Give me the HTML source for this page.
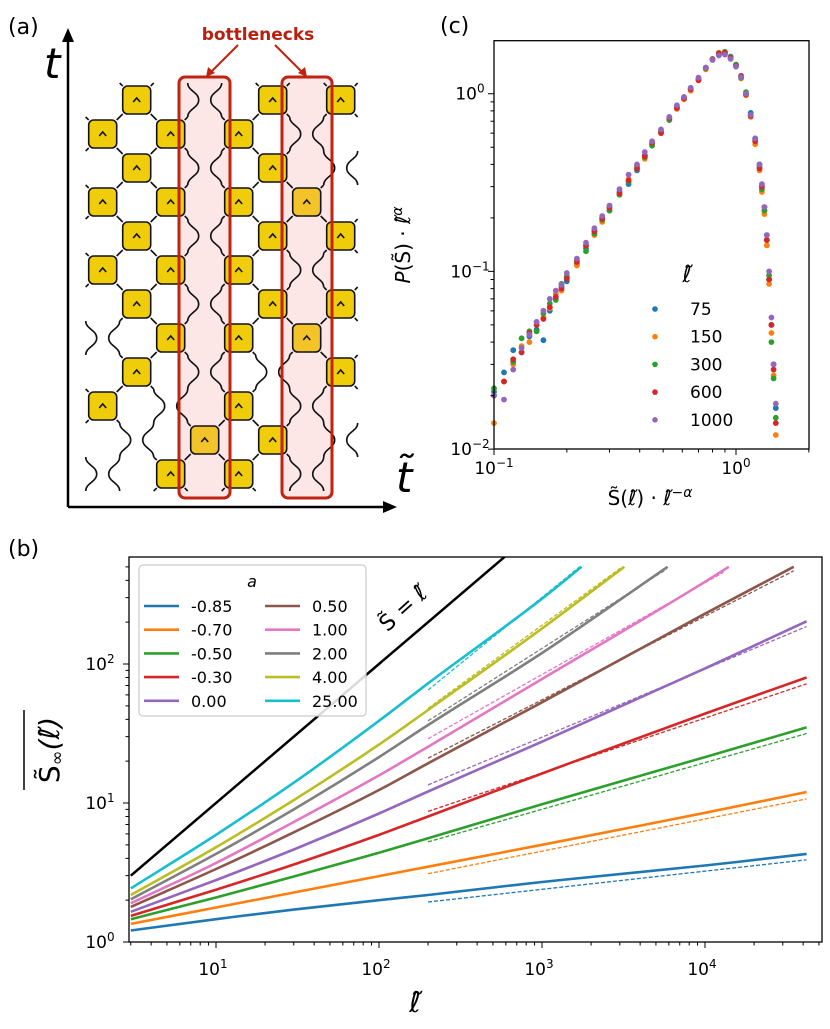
<!DOCTYPE html>
<html><head><meta charset="utf-8"><style>
html,body{margin:0;padding:0;background:#fff}
svg{display:block}
text{font-family:"DejaVu Sans","Liberation Sans",sans-serif}
</style></head><body>
<svg id="fig" xmlns="http://www.w3.org/2000/svg" width="830" height="1029" viewBox="0 0 830 1029">
<g id="pa"></g>
<g id="pb"></g>
<g id="pc"></g>
</svg>
<script>
// ===== Panel (b) data =====
const bLabels = ["-0.85","-0.70","-0.50","-0.30","0.00","0.50","1.00","2.00","4.00","25.00"];
const bColors = ["#1f77b4","#ff7f0e","#2ca02c","#d62728","#9467bd","#8c564b","#e377c2","#7f7f7f","#bcbd22","#17becf"];
const bX_m085 = [3,10,30,100,200,1000,10000,42000];
const bY_m085 = [1.21,1.46,1.71,2.0,2.18,2.7,3.55,4.3];
const bX_m070 = [3,10,30,100,200,1000,10000,42000];
const bY_m070 = [1.35,1.77,2.27,2.98,3.48,5.0,8.5,12];
const bX_m050 = [3,10,30,100,200,1000,10000,42000];
const bY_m050 = [1.46,2.09,2.96,4.39,5.57,9.8,21.4,35];
const bX_m030 = [3,10,30,100,200,1000,10000,42000];
const bY_m030 = [1.54,2.38,3.61,5.9,8.0,16.3,44,80];
const bX_000 = [3,10,30,100,200,1000,10000,42000];
const bY_000 = [1.65,2.79,4.63,8.4,12.1,27.6,93,203];
const bX_050 = [3,10,30,100,200,1000,10000,35000];
const bY_050 = [1.79,3.35,6.15,12.4,19.3,53,230,500];
const bX_100 = [3,10,30,100,200,1000,10000,14000];
const bY_100 = [1.90,3.7,7.3,15.8,25.4,78,390,500];
const bX_200 = [3,10,30,100,200,1000,5900];
const bY_200 = [2.03,4.3,9.0,21.4,36.4,120,500];
const bX_400 = [3,10,30,100,200,1000,3200];
const bY_400 = [2.18,4.8,10.5,26.3,46.7,180,500];
const bX_2500 = [3,10,30,100,200,1000,1750];
const bY_2500 = [2.43,5.9,14,39,72.6,295,500];
const bFitX0 = [200,200,200,200,200,200,200,200,200,200];
const bFitY0 = [1.94,3.1,5.25,8.7,13.5,21,29,39,48,65];
const bFitX1 = [42000,42000,42000,42000,42000,35000,13000,5800,3100,1700];
const bFitY1 = [3.9,10.7,31.6,72,186,468,457,480,500,500];
const bXTicks = [10,100,1000,10000];
const bXTickExp = ["1","2","3","4"];
const bYTicks = [1,10,100];
const bYTickExp = ["0","1","2"];
const bIdentityX = [3,1000];

// ===== Panel (c) data =====
const cLabels = ["75","150","300","600","1000"];
const cColors = ["#1f77b4","#ff7f0e","#2ca02c","#d62728","#9467bd"];
const cX = [0.10,0.11,0.12,0.13,0.14,0.15,0.16,0.17,0.18,0.19,0.20,0.22,0.24,0.26,0.28,0.30,0.33,0.36,0.39,0.42,0.45,0.49,0.53,0.57,0.61,0.65,0.70,0.75,0.80,0.85,0.90,0.95,1.00,1.05,1.10,1.15,1.20,1.25,1.28,1.31,1.34,1.37,1.40,1.43,1.46];
const cY75 = [0.021,0.027,0.036,0.035,0.043,0.047,0.041,0.060,0.070,0.082,0.088,0.110,0.135,0.170,0.200,0.220,0.28,0.31,0.37,0.45,0.52,0.60,0.73,0.84,0.95,1.07,1.22,1.40,1.56,1.66,1.68,1.62,1.45,1.26,1.00,0.78,0.56,0.40,0.30,0.22,0.15,0.09,0.05,0.030,0.017];
const cY150 = [0.014,0.024,0.030,0.038,0.040,0.052,0.055,0.062,0.075,0.078,0.092,0.108,0.140,0.160,0.190,0.230,0.27,0.33,0.38,0.43,0.52,0.62,0.72,0.82,0.93,1.04,1.21,1.37,1.55,1.70,1.71,1.58,1.44,1.22,0.98,0.74,0.52,0.37,0.28,0.21,0.14,0.085,0.045,0.026,0.012];
const cY300 = [0.022,0.024,0.031,0.042,0.046,0.046,0.058,0.066,0.069,0.085,0.094,0.115,0.130,0.163,0.195,0.220,0.27,0.32,0.39,0.44,0.51,0.61,0.71,0.84,0.95,1.06,1.20,1.39,1.57,1.69,1.72,1.61,1.46,1.23,1.02,0.76,0.55,0.39,0.29,0.22,0.16,0.095,0.040,0.025,0.015];
const cY600 = [0.020,0.024,0.032,0.035,0.045,0.050,0.054,0.063,0.072,0.080,0.091,0.113,0.140,0.168,0.198,0.228,0.275,0.325,0.38,0.445,0.53,0.60,0.73,0.83,0.94,1.06,1.19,1.40,1.56,1.68,1.70,1.59,1.43,1.26,0.99,0.75,0.54,0.38,0.30,0.23,0.15,0.090,0.050,0.028,0.014];
const cY1000 = [0.020,0.019,0.028,0.037,0.044,0.052,0.060,0.070,0.078,0.084,0.098,0.118,0.145,0.175,0.205,0.235,0.29,0.35,0.40,0.47,0.54,0.63,0.74,0.86,0.96,1.08,1.23,1.40,1.55,1.64,1.66,1.57,1.42,1.24,1.00,0.76,0.56,0.40,0.31,0.23,0.16,0.10,0.055,0.030,0.018];
const cXTicks = [0.1,1];
const cXTickExp = ["\u22121","0"];
const cYTicks = [0.01,0.1,1];
const cYTickExp = ["\u22122","\u22121","0"];

// ===== Panel (a) data =====
const aGates = [[1,5,7],[0,2,4],[1,5],[0,2,4,6],[1,5,7],[0,2,4],[1,5,7],[2,4,6],[1,7],[0,4],[3,5],[2,4]];
const aOrange = ["3-6","7-6","10-3"];

const NS="http://www.w3.org/2000/svg";
function mk(tag, parent, attrs){const e=document.createElementNS(NS,tag);for(const k in attrs)e.setAttribute(k,attrs[k]);parent.appendChild(e);return e;}
const L=Math.log10;
function monotonePath(p){
  const n=p.length, dx=[], s=[], m=[];
  for(let i=0;i<n-1;i++){dx.push(p[i+1][0]-p[i][0]);s.push((p[i+1][1]-p[i][1])/dx[i]);}
  m[0]=s[0];m[n-1]=s[n-2];
  for(let i=1;i<n-1;i++){m[i]=(s[i-1]*s[i]<=0)?0:(dx[i-1]+dx[i])*3/((2*dx[i]+dx[i-1])/s[i-1]+(dx[i]+2*dx[i-1])/s[i]);}
  let d=`M${p[0][0].toFixed(1)},${p[0][1].toFixed(1)}`;
  for(let i=0;i<n-1;i++){const h=dx[i];
    d+=`C${(p[i][0]+h/3).toFixed(1)},${(p[i][1]+m[i]*h/3).toFixed(1)} ${(p[i+1][0]-h/3).toFixed(1)},${(p[i+1][1]-m[i+1]*h/3).toFixed(1)} ${p[i+1][0].toFixed(1)},${p[i+1][1].toFixed(1)}`;}
  return d;
}

// ---------------- Panel (a) ----------------
(function(){
const g=document.getElementById('pa');
const t=mk('text',g,{x:8,y:34,'font-size':22});t.textContent='(a)';


const c0=102.7, dx=34, r0=100, dy=34, h=14;
const rects=[[179,77,51,421],[282,77,50,421]];
rects.forEach((r,i)=>{const e=mk('rect',g,{x:r[0],y:r[1],width:r[2],height:r[3],rx:6,fill:'#fde6e6',stroke:'none'});

});
let d='';
for(let r=0;r<12;r++){
  const Y=r0+r*dy;
  const present=aGates[r];
  for(let c=0;c<8;c++){
    if((c+r)%2!==1) continue;
    const X=c0+c*dx;
    if(present.includes(c)){
      d+=`M${X-17},${Y-17}L${X-h},${Y-h}M${X+17},${Y-17}L${X+h},${Y-h}M${X-17},${Y+17}L${X-h},${Y+h}M${X+17},${Y+17}L${X+h},${Y+h}`;
    } else {
      [[X-17,1],[X+17,-1]].forEach(([xw,s])=>{
        if(xw>362) return;
        const b=xw+s*11;
        d+=`M${xw},${Y-17}C${xw},${Y-9} ${b},${Y-8} ${b},${Y}C${b},${Y+8} ${xw},${Y+9} ${xw},${Y+17}`;
      });
    }
  }
}
const w=mk('path',g,{d:d,fill:'none',stroke:'#111','stroke-width':1.6});


for(let r=0;r<12;r++){
  const Y=r0+r*dy;
  aGates[r].forEach(c=>{
    const X=c0+c*dx;
    const orange=aOrange.includes(r+'-'+c);
    const sq=mk('rect',g,{x:X-h,y:Y-h,width:28,height:28,rx:5,fill:orange?'#f2c42a':'#f0cd0a',stroke:'#111','stroke-width':1.6});
    
    
    const ch=mk('path',g,{d:`M${X-3.5},${Y+2}L${X},${Y-2}L${X+3.5},${Y+2}`,fill:'none',stroke:'#111','stroke-width':1.6});
    
    
  });
}
rects.forEach(r=>{const e=mk('rect',g,{x:r[0],y:r[1],width:r[2],height:r[3],rx:6,fill:'none',stroke:'#c0230f','stroke-width':3});

});
const ax=mk('path',g,{d:'M68,507L68,40M68,507L385,507',stroke:'#000','stroke-width':2.5,fill:'none'});


const ar=mk('path',g,{d:'M68,28L62,42L74,42ZM397,507L383,501L383,513Z',fill:'#000'});


const tl=mk('text',g,{x:44,y:78,'font-size':42,'font-style':'italic','font-family':'Liberation Serif, serif'});tl.textContent='t';


const tt=mk('text',g,{x:396,y:492,'font-size':42,'font-style':'italic','font-family':'Liberation Serif, serif'});tt.textContent='t\u0303';


const bn=mk('text',g,{x:258,y:40,'font-size':17,'font-weight':'bold',fill:'#b8200e','text-anchor':'middle'});bn.textContent='bottlenecks';


const ba=mk('path',g,{d:'M238,45L209,74M275,45L304,74',stroke:'#c0230f','stroke-width':2,fill:'none'});


const bh=mk('path',g,{d:'M206,77L208,67L215,73ZM307,77L298,73L305,67Z',fill:'#c0230f'});


})();

// ---------------- Panel (b) ----------------
(function(){
const g=document.getElementById('pb');
const left=129,right=822,top=557,bot=942;
const X=v=>216+163*(L(v)-1);
const Y=v=>942-139*L(v);
const lab=mk('text',g,{x:8,y:556,'font-size':22});lab.textContent='(b)';


const defs=mk('defs',g,{});
const cp=mk('clipPath',defs,{id:'clipb'});mk('rect',cp,{x:left,y:top,width:right-left,height:bot-top});
const pl=mk('g',g,{'clip-path':'url(#clipb)'});
const id=mk('line',pl,{x1:X(bIdentityX[0]),y1:Y(bIdentityX[0]),x2:X(bIdentityX[1]),y2:Y(bIdentityX[1]),stroke:'#000','stroke-width':2.5});


const sx=[bX_m085,bX_m070,bX_m050,bX_m030,bX_000,bX_050,bX_100,bX_200,bX_400,bX_2500];
const sy=[bY_m085,bY_m070,bY_m050,bY_m030,bY_000,bY_050,bY_100,bY_200,bY_400,bY_2500];
for(let i=0;i<10;i++){
  const pts=sx[i].map((x,j)=>[X(x),Y(sy[i][j])]);
  const p=mk('path',pl,{d:monotonePath(pts),fill:'none',stroke:bColors[i],'stroke-width':2.6,'stroke-linejoin':'round'});
  
  
  const f=mk('line',pl,{x1:X(bFitX0[i]),y1:Y(bFitY0[i]),x2:X(bFitX1[i]),y2:Y(bFitY1[i]),stroke:bColors[i],'stroke-width':1.3,'stroke-dasharray':'4,2'});
  
  
}
const fr=mk('rect',g,{x:left,y:top,width:right-left,height:bot-top,fill:'none',stroke:'#000','stroke-width':1.3});


let td='';
for(let e=0;e<5;e++)for(let m=1;m<10;m++){const v=m*Math.pow(10,e);const x=X(v);if(x<left-0.5||x>right)continue;td+=`M${x},${bot}L${x},${bot+(m===1?6:3.5)}`;}
for(let e=0;e<3;e++)for(let m=1;m<10;m++){const v=m*Math.pow(10,e);const y=Y(v);if(y<top)continue;td+=`M${left},${y}L${left-(m===1?6:3.5)},${y}`;}
const tk=mk('path',g,{d:td,stroke:'#000','stroke-width':1});


bXTicks.forEach((v,i)=>{const t=mk('text',g,{x:X(v)-3,y:975,'font-size':17,'text-anchor':'middle'});t.innerHTML='10<tspan dy="-7" font-size="12">'+bXTickExp[i]+'</tspan>';

});
bYTicks.forEach((v,i)=>{const t=mk('text',g,{x:100,y:Y(v)+6,'font-size':17,'text-anchor':'middle'});t.innerHTML='10<tspan dy="-7" font-size="12">'+bYTickExp[i]+'</tspan>';

});
const xl=mk('text',g,{x:415,y:1012,'font-size':28,'font-style':'italic','text-anchor':'middle'});xl.textContent='\u2113\u0303';


const yl=mk('text',g,{x:0,y:0,'font-size':28,'text-anchor':'middle',transform:'translate(59,750) rotate(-90)'});yl.innerHTML='S\u0303<tspan font-size="18" dy="4">\u221e</tspan><tspan dy="-4" font-style="italic">(\u2113\u0303)</tspan>';


const ol=mk('line',g,{x1:24,y1:710,x2:24,y2:790,stroke:'#000','stroke-width':1.5});


const lg=mk('rect',g,{x:139,y:565,width:227,height:151,rx:4,fill:'#fff','fill-opacity':0.85,stroke:'#ccc','stroke-width':1.2});


const il=mk('text',g,{x:0,y:0,'font-size':22,'text-anchor':'middle',transform:'translate(408,614) rotate(-42)'});il.innerHTML='S\u0303 = <tspan font-style="italic">\u2113\u0303</tspan>';


const lt=mk('text',g,{x:252,y:587,'font-size':16,'font-style':'italic','text-anchor':'middle'});lt.textContent='a';


for(let i=0;i<10;i++){const col=Math.floor(i/5),row=i%5;const x0=col?265:144,y0=606+row*23.7;
const ln=mk('line',g,{x1:x0,y1:y0,x2:x0+35,y2:y0,stroke:bColors[i],'stroke-width':2.6});


const tx=mk('text',g,{x:x0+47,y:y0+6,'font-size':16});tx.textContent=bLabels[i];

}
})();

// ---------------- Panel (c) ----------------
(function(){
const g=document.getElementById('pc');
const left=494,right=809,top=40.7,bot=449;
const X=v=>736+242*L(v);
const Y=v=>93.7-177.7*L(v);
const lab=mk('text',g,{x:440,y:33,'font-size':22});lab.textContent='(c)';


const series=[cY75,cY150,cY300,cY600,cY1000];
series.forEach((ys,i)=>{ys.forEach((v,j)=>{const x=X(cX[j]),y=Y(v);if(x<left||y>bot||y<top)return;
const dt=mk('circle',g,{cx:x.toFixed(1),cy:y.toFixed(1),r:2.9,fill:cColors[i]});

});});
const fr=mk('rect',g,{x:left,y:top,width:right-left,height:bot-top,fill:'none',stroke:'#000','stroke-width':1.3});


let td='';
for(let e=-1;e<1;e++)for(let m=1;m<10;m++){const v=m*Math.pow(10,e);const x=X(v);if(x>right)continue;td+=`M${x},${bot}L${x},${bot+(m===1?6:3.5)}`;}
td+=`M${X(2)},${bot}L${X(2)},${bot+3.5}`;
for(let e=-2;e<1;e++)for(let m=1;m<10;m++){const v=m*Math.pow(10,e);const y=Y(v);if(y<top)continue;td+=`M${left},${y}L${left-(m===1?6:3.5)},${y}`;}
const tk=mk('path',g,{d:td,stroke:'#000','stroke-width':1});


cXTicks.forEach((v,i)=>{const t=mk('text',g,{x:X(v),y:474,'font-size':17,'text-anchor':'middle'});t.innerHTML='10<tspan dy="-7" font-size="12">'+cXTickExp[i]+'</tspan>';

});
cYTicks.forEach((v,i)=>{const t=mk('text',g,{x:470,y:Y(v)+6,'font-size':17,'text-anchor':'middle'});t.innerHTML='10<tspan dy="-7" font-size="12">'+cYTickExp[i]+'</tspan>';

});
const xl=mk('text',g,{x:650,y:505,'font-size':20,'text-anchor':'middle'});xl.innerHTML='S\u0303(<tspan font-style="italic">\u2113\u0303</tspan>) \u00b7 <tspan font-style="italic">\u2113\u0303</tspan><tspan dy="-8" font-size="14" font-style="italic">\u2212\u03b1</tspan>';


const yl=mk('text',g,{x:0,y:0,'font-size':20,'text-anchor':'middle',transform:'translate(410,245) rotate(-90)'});yl.innerHTML='<tspan font-style="italic">P</tspan>(S\u0303) \u00b7 <tspan font-style="italic">\u2113\u0303</tspan><tspan dy="-8" font-size="14" font-style="italic">\u03b1</tspan>';


const lt=mk('text',g,{x:687,y:282,'font-size':22,'font-style':'italic','text-anchor':'middle'});lt.textContent='\u2113\u0303';


cLabels.forEach((s,i)=>{const y=309+i*27.7;
const d=mk('circle',g,{cx:655,cy:y,r:2.8,fill:cColors[i]});


const t=mk('text',g,{x:690,y:y+6,'font-size':17});t.textContent=s;

});
})();
</script>
</body></html>
